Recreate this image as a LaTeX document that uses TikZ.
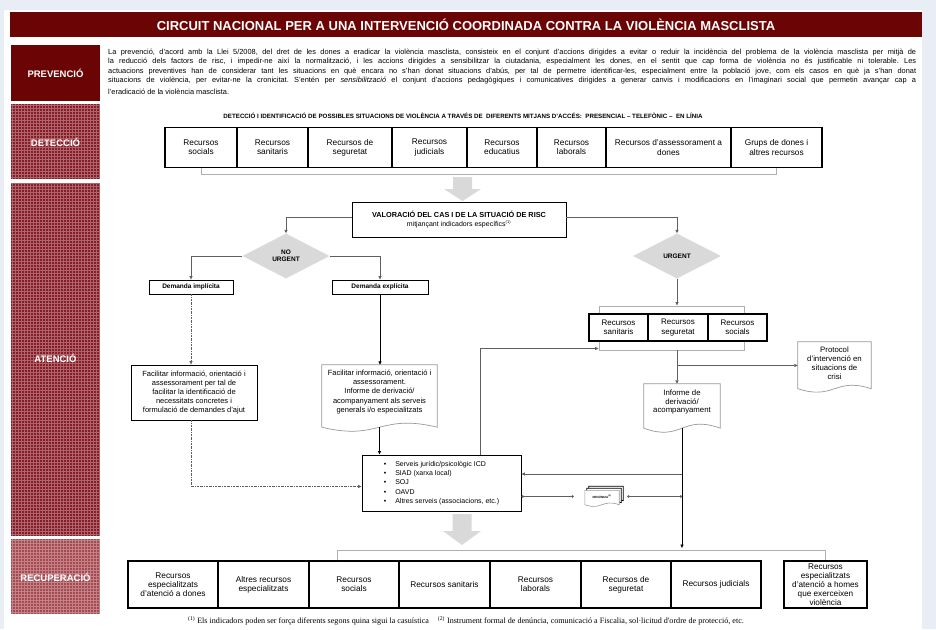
\documentclass[tikz,border=0pt]{standalone}
\usepackage{fontspec}
\setmainfont{Liberation Sans}
\newfontfamily\serifft{Liberation Serif}
\usetikzlibrary{arrows.meta,shapes.geometric,calc}
\pgfdeclarelayer{back}
\pgfdeclarelayer{bg}
\pgfsetlayers{back,bg,main}
\definecolor{bgblue}{RGB}{233,237,246}
\definecolor{maroon}{RGB}{107,4,4}
\definecolor{patA}{RGB}{135,28,38}
\definecolor{patB}{RGB}{165,72,80}
\definecolor{diagrey}{RGB}{217,217,217}
\definecolor{lnk}{RGB}{95,95,95}
\definecolor{brk}{RGB}{175,175,175}
\newcommand\fsz[2]{\fontsize{#1}{#2}\selectfont}
% #1 style, #2 node, #3 side extension, #4 wave amplitude, #5 dx, #6 dy
\newcommand\docout[6]{%
 \draw[#1] ($(#2.south west)+(#5,#6)+(0,#3)$) -- ($(#2.north west)+(#5,#6)$) -- ($(#2.north east)+(#5,#6)$) -- ($(#2.south east)+(#5,#6)+(0,#3)$)
   .. controls ($(#2.south)+(#5,#6)+(0,#3)+(0,-#4)$) and ($(#2.south)+(#5,#6)+(0,#3)+(0,#4)$) .. ($(#2.south west)+(#5,#6)+(0,#3)$) -- cycle;}
\newcommand\sidepat[3]{%
 \fill[#3] (11,#1) rectangle (100,#2);
 \draw[white, opacity=.32, line width=.7pt, step=3pt] (11,#1) grid (100,#2);}
\tikzset{
 cell/.style={draw, fill=white, line width=1.5pt, inner sep=1pt, align=center, font=\fsz{8.3}{9.2}},
 box/.style={draw, fill=white, line width=0.8pt, inner sep=1pt, align=center},
 conn/.style={draw=lnk, line width=0.7pt},
 arr/.style={-{Triangle[length=3.5pt,width=3pt]}},
 brkline/.style={draw=brk, line width=1pt},
 ddot/.style={dash pattern=on 2pt off 1pt on 0.5pt off 1pt},
 dec/.style={draw=none, fill=diagrey, diamond, aspect=2, inner sep=0, font=\bfseries\fsz{6.5}{7.5}, align=center},
 docline/.style={draw=black!40, fill=white, line width=0.7pt},
 doctxt/.style={align=center, inner sep=1pt},
 lab/.style={text=white, font=\bfseries\fsz{9.5}{11}},
 para/.style={anchor=west, inner sep=0, font=\frenchspacing\fsz{7.4}{8}},
}
\begin{document}
\begin{tikzpicture}[x=1pt,y=-1pt]
\useasboundingbox (0,0) rectangle (936,629);
\begin{pgfonlayer}{back}
\fill[bgblue] (0,0) rectangle (936,629);
\fill[white] (4,10) rectangle (922,629);
\fill[maroon] (10,12) rectangle (922,37);
\fill[maroon] (11,45) rectangle (100,101);
\sidepat{104}{179}{patA}
\sidepat{183}{536}{patA}
\sidepat{539}{614}{patB}
\end{pgfonlayer}

% title and side labels
\node[text=white, font=\bfseries\fsz{13}{15}] (title) at (466,24.5) {CIRCUIT NACIONAL PER A UNA INTERVENCIÓ COORDINADA CONTRA LA VIOLÈNCIA MASCLISTA};
\node[lab] (lprev) at (55.5,73.5) {PREVENCIÓ};
\node[lab] (ldet) at (55.5,142) {DETECCIÓ};
\node[lab] (laten) at (55.5,358) {ATENCIÓ};
\node[lab] (lrec) at (55.5,577) {RECUPERACIÓ};

% paragraph
\node[para] (p1) at (108,52.5) {\makebox[808pt][s]{La prevenció, d'acord amb la Llei 5/2008, del dret de les dones a eradicar la violència masclista, consisteix en el conjunt d'accions dirigides a evitar o reduir la incidència del problema de la violència masclista per mitjà de}};
\node[para] (p2) at (108,61.8) {\makebox[808pt][s]{la reducció dels factors de risc, i impedir-ne així la normalització, i les accions dirigides a sensibilitzar la ciutadania, especialment les dones, en el sentit que cap forma de violència no és justificable ni tolerable. Les}};
\node[para] (p3) at (108,71.1) {\makebox[808pt][s]{actuacions preventives han de considerar tant les situacions en què encara no s'han donat situacions d'abús, per tal de permetre identificar-les, especialment entre la població jove, com els casos en què ja s'han donat}};
\node[para] (p4) at (108,80.4) {\makebox[808pt][s]{situacions de violència, per evitar-ne la cronicitat. S'entén per \textit{sensibilització} el conjunt d'accions pedagògiques i comunicatives dirigides a generar canvis i modificacions en l'imaginari social que permetin avançar cap a}};
\node[para] (p5) at (108,92) {l'eradicació de la violència masclista.};

% detection
\node[font=\bfseries\fsz{6.2}{7}] (dhead) at (463,115.5) {DETECCIÓ I IDENTIFICACIÓ DE POSSIBLES SITUACIONS DE VIOLÈNCIA A TRAVÉS DE\ \ DIFERENTS MITJANS D'ACCÉS:\ \ PRESENCIAL – TELEFÒNIC –\ \ EN LÍNIA};
\node[cell, minimum width=72pt, minimum height=40pt] (d1) at (201,147.5) {Recursos\\socials};
\node[cell, minimum width=71pt, minimum height=40pt] (d2) at (272.5,147.5) {Recursos\\sanitaris};
\node[cell, minimum width=84pt, minimum height=40pt] (d3) at (350,147.5) {Recursos de\\seguretat};
\node[cell, minimum width=75pt, minimum height=40pt] (d4) at (429.5,147.5) {Recursos\\judicials};
\node[cell, minimum width=70pt, minimum height=40pt] (d5) at (502,147.5) {Recursos\\educatius};
\node[cell, minimum width=69pt, minimum height=40pt] (d6) at (571.5,147.5) {Recursos\\laborals};
\node[cell, minimum width=125pt, minimum height=40pt] (d7) at (668.5,147.5) {Recursos d'assessorament a\\dones};
\node[cell, minimum width=91pt, minimum height=40pt] (d8) at (776.5,147.5) {Grups de dones i\\altres recursos};
\coordinate (dL) at (201,174.5);
\coordinate (dR) at (776.5,174.5);
\draw[brkline] (d1.south) -- (dL) -- (dR) -- (d8.south);
\fill[diagrey] (453,177) -- (472,177) -- (472,189) -- (481,189) -- (462.5,201) -- (444,189) -- (453,189) -- cycle;

% valoracio
\node[box, line width=0.9pt, minimum width=214pt, minimum height=35pt, font=\fsz{7}{8.5}] (val) at (459,219.5) {{\bfseries\fsz{7.3}{8.5}VALORACIÓ DEL CAS I DE LA SITUACIÓ DE RISC}\\mitjançant indicadors específics\textsuperscript{\fsz{4}{4}(1)}};
\node[dec, minimum width=87pt, minimum height=45pt] (nou) at (286,256) {NO\\URGENT};
\node[dec, minimum width=88pt, minimum height=45pt] (urg) at (677,256) {URGENT};
\draw[conn, arr] ([yshift=2.5pt]val.west) -| (nou.north);
\draw[conn, arr] ([yshift=2.5pt]val.east) -| (urg.north);

% no urgent branch
\node[box, font=\bfseries\fsz{6.5}{7.5}, minimum width=84pt, minimum height=14pt, inner sep=0] (dimp) at (191,287) {Demanda implícita};
\node[box, font=\bfseries\fsz{6.5}{7.5}, minimum width=96pt, minimum height=14pt, inner sep=0] (dexp) at (380,287) {Demanda explícita};
\draw[conn, arr] (nou.west) -| (dimp.north);
\draw[conn, arr] (nou.east) -| (dexp.north);
\node[box, minimum width=126pt, minimum height=55pt, font=\fsz{7.5}{9.2}] (fac1) at (194,392.5) {Facilitar informació, orientació i\\assessorament per tal de\\facilitar la identificació de\\necessitats concretes i\\formulació de demandes d'ajut};
\node[doctxt, minimum width=115pt, minimum height=54pt, font=\fsz{7.5}{9.2}] (fac2) at (379.5,392) {Facilitar informació, orientació i\\assessorament.\\Informe de derivació/\\acompanyament als serveis\\generals i/o especialitzats};
\begin{pgfonlayer}{bg}\docout{docline}{fac2}{8}{14}{0}{0}\end{pgfonlayer}
\draw[conn, ddot, arr] (dimp.south) -- (dimp.south |- fac1.north);
\draw[black, line width=0.8pt, arr] (dexp.south) -- (dexp.south |- fac2.north);

% central box
\node[box, line width=0.9pt, minimum width=159pt, minimum height=56pt, align=left, font=\fsz{7}{9.2}] (cbox) at (441.5,483) {\textbullet\hspace{9pt}Serveis jurídic/psicològic ICD\\\textbullet\hspace{9pt}SIAD (xarxa local)\\\textbullet\hspace{9pt}SOJ\\\textbullet\hspace{9pt}OAVD\\\textbullet\hspace{9pt}Altres serveis (associacions, etc.)};
\draw[conn, ddot, arr] (dimp.south |- fac1.south) |- ([yshift=-3.5pt]cbox.west);
\draw[black, line width=0.8pt, arr] ($(fac2.south)+(0,8)$) -- (fac2.south |- cbox.north);

% urgent branch
\node[draw=brk, line width=0.9pt, minimum width=145pt, minimum height=44pt, inner sep=0] (urgbr) at (671.5,328) {};
\node[cell, line width=1.2pt, font=\fsz{8}{9.5}, minimum width=59pt, minimum height=27pt] (u1) at (618.5,327.5) {Recursos\\sanitaris};
\node[cell, line width=1.2pt, font=\fsz{8}{9.5}, minimum width=60pt, minimum height=27pt] (u2) at (678,327.5) {Recursos\\seguretat};
\node[cell, line width=1.2pt, font=\fsz{8}{9.5}, minimum width=59pt, minimum height=27pt] (u3) at (737.5,327.5) {Recursos\\socials};
\draw[conn, arr] (urg.south) -- (urg.south |- urgbr.north);
\draw[conn, arr] ([xshift=38.5pt]cbox.north) |- ([yshift=2pt]urgbr.south west);
\node[doctxt, minimum width=73pt, minimum height=41.5pt, font=\fsz{7.8}{9}] (prot) at (834.5,362.75) {Protocol\\d'intervenció en\\situacions de\\crisi};
\node[doctxt, minimum width=76pt, minimum height=36pt, font=\fsz{7.8}{8.4}] (inf) at (682,402) {Informe de\\derivació/\\acompanyament};
\begin{pgfonlayer}{bg}
\docout{docline}{prot}{5}{12}{0}{0}
\docout{docline}{inf}{8}{14}{0}{0}
\end{pgfonlayer}
\draw[conn, arr] (urg.south |- urgbr.south) -- (urg.south |- inf.north);
\coordinate (brp) at ($(urg.south |- urgbr.south)+(0,15)$);
\draw[conn, arr] (brp) -- (brp -| prot.west);

% denuncia
\node[inner sep=0, minimum width=34pt, minimum height=12pt, font=\bfseries\fsz{3}{3}] (den) at (602,496.5) {DENÚNCIA\textsuperscript{(2)}};
\begin{pgfonlayer}{bg}
\docout{draw=black, fill=white, line width=0.7pt}{den}{2}{6}{4}{-4}
\docout{draw=black, fill=white, line width=0.7pt}{den}{2}{6}{2}{-2}
\docout{draw=black!40, fill=white, line width=0.6pt}{den}{2}{6}{0}{0}
\end{pgfonlayer}

% bottom
\node[cell, minimum width=90pt, minimum height=47pt] (b1) at (173,584.5) {Recursos\\especialitzats\\d'atenció a dones};
\node[cell, minimum width=91pt, minimum height=47pt] (b2) at (263.5,584.5) {Altres recursos\\especialitzats};
\node[cell, minimum width=90pt, minimum height=47pt] (b3) at (354,584.5) {Recursos\\socials};
\node[cell, minimum width=91pt, minimum height=47pt] (b4) at (444.5,584.5) {Recursos sanitaris};
\node[cell, minimum width=91pt, minimum height=47pt] (b5) at (535.5,584.5) {Recursos\\laborals};
\node[cell, minimum width=90pt, minimum height=47pt] (b6) at (626,584.5) {Recursos de\\seguretat};
\node[cell, minimum width=90pt, minimum height=47pt] (b7) at (716,584.5) {Recursos judicials};
\node[cell, minimum width=83pt, minimum height=47pt, inner sep=0, font=\fsz{8.2}{9}] (b8) at (825.5,584.5) {Recursos\\especialitzats\\d'atenció a homes\\que exerceixen\\violència};
\coordinate (bL) at (337,550);
\coordinate (bR) at (825.5,550);
\draw[brkline] ([xshift=-17pt]b3.north) -- (bL) -- (bR) -- (b8.north);
\fill[diagrey] (452.5,514) -- (471.5,514) -- (471.5,531) -- (481,531) -- (462,545) -- (443,531) -- (452.5,531) -- cycle;

% informe links
\draw[black, line width=0.8pt, arr, shorten >=2pt] ($(inf.south)+(0,8)$) -- (inf.south |- bL);
\coordinate (cA) at ([yshift=9pt]cbox.east);
\draw[conn, arr] (inf.south |- cA) -- (cA);
\draw[conn, {Circle[length=2.5pt]}-{Circle[length=2.5pt]}] (cbox.east |- den) -- ([xshift=-11pt]den.west);
\draw[conn, {Circle[length=2.5pt]}-{Circle[length=2.5pt]}] ([xshift=8pt]den.east) -- (inf.south |- den);

% footnote
\node[font=\serifft\fsz{8.1}{9}] (fn) at (466,621) {\textsuperscript{(1)} Els indicadors poden ser força diferents segons quina sigui la casuística\hspace{9pt}\textsuperscript{(2)} Instrument formal de denúncia, comunicació a Fiscalia, sol·licitud d'ordre de protecció, etc.};
\end{tikzpicture}
\end{document}
